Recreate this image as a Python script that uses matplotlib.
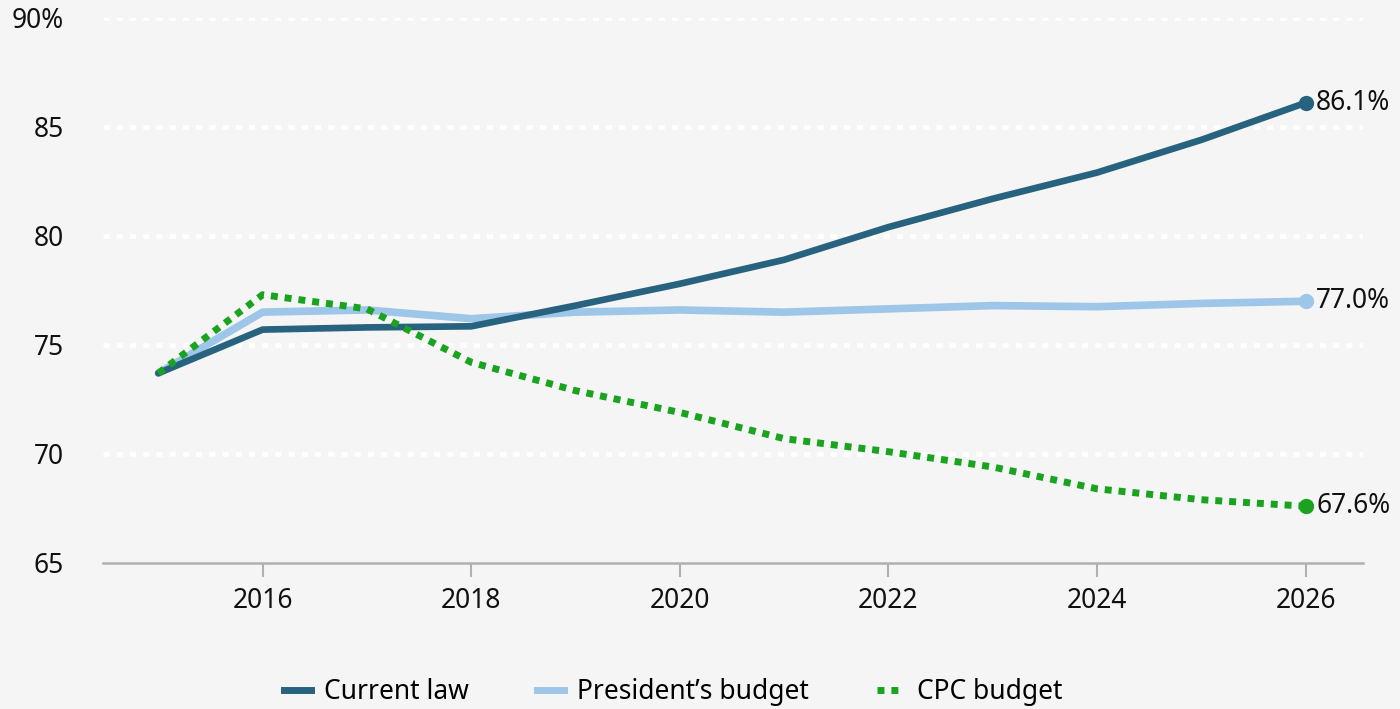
import matplotlib.pyplot as plt
from matplotlib.lines import Line2D

years = [2015, 2016, 2017, 2018, 2019, 2020, 2021, 2022, 2023, 2024, 2025, 2026]
current_law = [73.7, 75.7, 75.8, 75.85, 76.8, 77.8, 78.9, 80.4, 81.7, 82.9, 84.4, 86.1]
presidents_budget = [73.7, 76.5, 76.6, 76.2, 76.5, 76.6, 76.5, 76.65, 76.8, 76.75, 76.9, 77.0]
cpc_budget = [73.7, 77.3, 76.65, 74.2, 72.9, 71.9, 70.7, 70.1, 69.4, 68.4, 67.9, 67.6]

dark = "#27627f"
light = "#9dc6e8"
green = "#1aa31f"
bg = "#f5f5f5"
font = "Noto Sans"

fig = plt.figure(figsize=(14, 7.09), dpi=100, facecolor=bg)
ax = fig.add_axes([0.0736, 0.206, 0.9, 0.769], facecolor=bg)

for y in [70, 75, 80, 85, 90]:
    ax.axhline(y, color="white", lw=3.4, linestyle=(0, (1.3, 1.5)), zorder=1)

ax.plot(years, presidents_budget, color=light, lw=5.5, solid_capstyle="round", zorder=3)
ax.plot(years, current_law, color=dark, lw=4.8, solid_capstyle="round", zorder=4)
ax.plot(years, cpc_budget, color=green, lw=5, linestyle=(0, (1, 1)), zorder=5)

for vals, c in [(current_law, dark), (presidents_budget, light), (cpc_budget, green)]:
    ax.plot(years[-1], vals[-1], "o", color=c, ms=10, zorder=6)
    ax.text(years[-1] + 0.1, vals[-1], f"{vals[-1]:.1f}%", fontsize=19, family=font,
            va="center", ha="left", color="#111111")

ax.set_xlim(2014.47, 2026.55)
ax.set_ylim(65, 90)
ax.set_xticks(range(2016, 2027, 2))
ax.set_yticks([65, 70, 75, 80, 85, 90])
ax.set_yticklabels(["65", "70", "75", "80", "85", "90%"])
ax.tick_params(axis="x", length=10, width=1.5, color="#b0b0b0", pad=7)
ax.tick_params(axis="y", length=0, pad=28)
for lab in ax.get_xticklabels() + ax.get_yticklabels():
    lab.set_fontsize(19)
    lab.set_family(font)
    lab.set_color("#111111")

for s in ["top", "right", "left"]:
    ax.spines[s].set_visible(False)
ax.spines["bottom"].set_color("#b0b0b0")
ax.spines["bottom"].set_linewidth(1.8)

handles = [
    Line2D([], [], color=dark, lw=5),
    Line2D([], [], color=light, lw=5),
    Line2D([], [], color=green, lw=5, linestyle=(0, (1, 1))),
]
fig.legend(handles, ["Current law", "President\u2019s budget", "CPC budget"],
           loc="center", bbox_to_anchor=(0.481, 0.024), ncol=3, frameon=False,
           handlelength=1.0, columnspacing=2.6, handletextpad=0.5,
           prop={"family": font, "size": 19})

fig.savefig("out.png", dpi=100, facecolor=bg)
